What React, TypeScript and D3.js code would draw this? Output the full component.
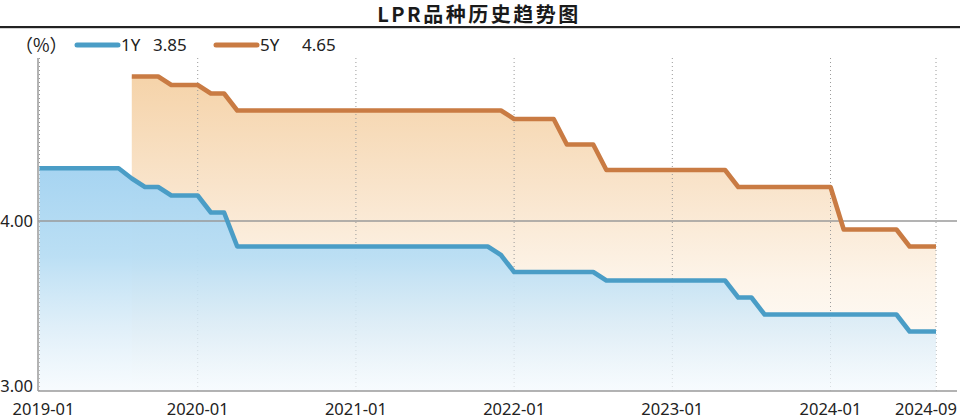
import React from 'react';
import * as d3 from 'd3';

// Monthly categories 2019-01 .. 2024-09
const months: string[] = d3
  .timeMonth.range(new Date(2019, 0, 1), new Date(2024, 9, 1))
  .map((d) => d3.timeFormat('%Y-%m')(d));

// 1Y LPR, monthly (2019-01 .. 2024-09)
const oneYear: number[] = [
  4.31, 4.31, 4.31, 4.31, 4.31, 4.31, 4.31, 4.25, 4.20, 4.20, 4.15, 4.15,
  4.15, 4.05, 4.05, 3.85, 3.85, 3.85, 3.85, 3.85, 3.85, 3.85, 3.85, 3.85,
  3.85, 3.85, 3.85, 3.85, 3.85, 3.85, 3.85, 3.85, 3.85, 3.85, 3.85, 3.80,
  3.70, 3.70, 3.70, 3.70, 3.70, 3.70, 3.70, 3.65, 3.65, 3.65, 3.65, 3.65,
  3.65, 3.65, 3.65, 3.65, 3.65, 3.55, 3.55, 3.45, 3.45, 3.45, 3.45, 3.45,
  3.45, 3.45, 3.45, 3.45, 3.45, 3.45, 3.35, 3.35, 3.35,
];

// 5Y LPR, monthly (introduced 2019-08)
const fiveYear: (number | null)[] = [
  null, null, null, null, null, null, null, 4.85, 4.85, 4.85, 4.80, 4.80,
  4.80, 4.75, 4.75, 4.65, 4.65, 4.65, 4.65, 4.65, 4.65, 4.65, 4.65, 4.65,
  4.65, 4.65, 4.65, 4.65, 4.65, 4.65, 4.65, 4.65, 4.65, 4.65, 4.65, 4.65,
  4.60, 4.60, 4.60, 4.60, 4.45, 4.45, 4.45, 4.30, 4.30, 4.30, 4.30, 4.30,
  4.30, 4.30, 4.30, 4.30, 4.30, 4.20, 4.20, 4.20, 4.20, 4.20, 4.20, 4.20,
  4.20, 3.95, 3.95, 3.95, 3.95, 3.95, 3.85, 3.85, 3.85,
];

const tickLabels = ['2019-01', '2020-01', '2021-01', '2022-01', '2023-01', '2024-01', '2024-09'];
const yTicks = [3, 4];
const yTickLabels = ['3.00', '4.00'];
const legendNames = ['1Y', '5Y'];
const legendValues = ['3.85', '4.65'];
const title = 'LPR品种历史趋势图';
const unit = '（%）';

const W = 960;
const H = 420;
const left = 38;
const right = 957;
const top = 58;
const bottom = 391;

const BLUE = '#4a9dc6';
const ORANGE = '#c97b43';
const GRID = '#9a9a9a';
const NUM_FONT = "'Noto Sans', 'DejaVu Sans', sans-serif";

export default function App() {
  const x = d3.scalePoint<string>().domain(months).range([39.5, 936]);
  const y = d3.scaleLinear().domain([3, 4]).range([bottom, 221]);

  const lineGen = d3
    .line<number | null>()
    .defined((d) => d != null)
    .x((_, i) => x(months[i]) as number)
    .y((d) => y(d as number));
  const areaGen = d3
    .area<number | null>()
    .defined((d) => d != null)
    .x((_, i) => x(months[i]) as number)
    .y0(bottom)
    .y1((d) => y(d as number));

  const n = tickLabels.length;

  return (
    <svg
      width={W}
      height={H}
      style={{ position: 'absolute', left: 0, top: 0, background: '#fff' }}
    >
      <defs>
        <linearGradient id="gOrange" gradientUnits="userSpaceOnUse" x1="0" y1="76" x2="0" y2={bottom}>
          <stop offset="0" stopColor="#f5d3a9" />
          <stop offset="0.35" stopColor="#f9e4cb" />
          <stop offset="0.65" stopColor="#fdf4e9" />
          <stop offset="1" stopColor="#ffffff" />
        </linearGradient>
        <linearGradient id="gBlue" gradientUnits="userSpaceOnUse" x1="0" y1="167" x2="0" y2={bottom}>
          <stop offset="0" stopColor="#a6d4f1" stopOpacity="1" />
          <stop offset="0.4" stopColor="#b9def4" stopOpacity="0.97" />
          <stop offset="0.75" stopColor="#dcedf8" stopOpacity="0.8" />
          <stop offset="1" stopColor="#f4fafe" stopOpacity="0.7" />
        </linearGradient>
      </defs>

      {/* title */}
      <text
        x={479}
        y={22}
        textAnchor="middle"
        fontFamily="'Noto Sans CJK SC', sans-serif"
        fontWeight={700}
        fontSize={20}
        letterSpacing={2.5}
        fill="#1a1a1a"
      >
        {title}
      </text>
      <rect x={0} y={26} width={W} height={2.2} fill="#222" />

      {/* legend */}
      <text x={15} y={52} fontFamily="'Noto Sans CJK SC', sans-serif" fontSize={18} fill="#222">
        {unit}
      </text>
      {[0, 1].map((k) => {
        const lx = k === 0 ? 77 : 216;
        return (
          <g key={k}>
            <line x1={lx} x2={lx + 41} y1={45} y2={45} stroke={k === 0 ? BLUE : ORANGE} strokeWidth={5} strokeLinecap="round" />
            <text x={lx + 44} y={51} fontFamily={NUM_FONT} fontSize={17} fill="#222">
              {legendNames[k]}
            </text>
            <text x={k === 0 ? 153 : 302} y={51} fontFamily={NUM_FONT} fontSize={17} fill="#222">
              {legendValues[k]}
            </text>
          </g>
        );
      })}

      {/* orange area */}
      <path d={areaGen(fiveYear) || ''} fill="url(#gOrange)" />

      {/* vertical dotted grid */}
      {tickLabels.map((t) => (
        <line
          key={'g' + t}
          x1={x(t)}
          x2={x(t)}
          y1={top}
          y2={bottom}
          stroke={GRID}
          strokeWidth={1}
          strokeDasharray="1,3"
        />
      ))}

      {/* blue area */}
      <path d={areaGen(oneYear) || ''} fill="url(#gBlue)" />

      {/* 4.00 gridline */}
      <line x1={left} x2={right} y1={y(4)} y2={y(4)} stroke={GRID} strokeWidth={1.3} />

      {/* lines */}
      <path d={lineGen(fiveYear) || ''} fill="none" stroke={ORANGE} strokeWidth={4.6} strokeLinejoin="round" />
      <path d={lineGen(oneYear) || ''} fill="none" stroke={BLUE} strokeWidth={4.6} strokeLinejoin="round" />

      {/* axes */}
      <line x1={left} x2={left} y1={top} y2={bottom} stroke={GRID} strokeWidth={1.5} />
      <line x1={left} x2={right} y1={bottom} y2={bottom} stroke={GRID} strokeWidth={1.5} />

      {/* y labels */}
      {yTicks.map((v, i) => (
        <text
          key={'y' + v}
          x={33}
          y={i === 0 ? bottom + 1 : y(v) + 6}
          textAnchor="end"
          fontFamily={NUM_FONT}
          fontSize={16.5}
          fill="#222"
        >
          {yTickLabels[i]}
        </text>
      ))}

      {/* x labels */}
      {tickLabels.map((t, i) => {
        const px = x(t) as number;
        const isLast = i === n - 1;
        return (
          <text
            key={'x' + t}
            x={i === 0 ? px + 4 : isLast ? right : px}
            y={415}
            textAnchor={isLast ? 'end' : 'middle'}
            fontFamily={NUM_FONT}
            fontSize={16.5}
            fill="#222"
          >
            {t}
          </text>
        );
      })}
    </svg>
  );
}
